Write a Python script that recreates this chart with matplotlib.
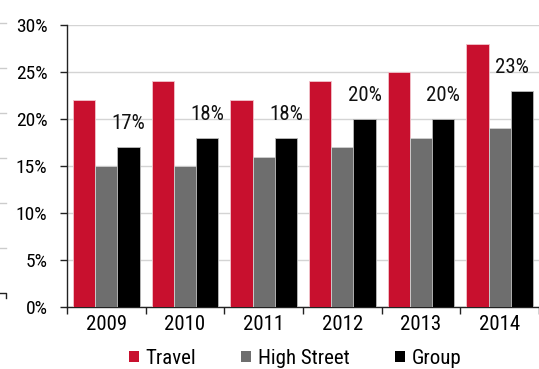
import matplotlib
matplotlib.use("Agg")
import matplotlib.pyplot as plt
from matplotlib.lines import Line2D
from matplotlib.patches import Patch
from matplotlib import font_manager
import numpy as np

years = ["2009", "2010", "2011", "2012", "2013", "2014"]
travel = [22, 24, 22, 24, 25, 28]
high_street = [15, 15, 16, 17, 18, 19]
group = [17, 18, 18, 20, 20, 23]
y_ticks = [0, 5, 10, 15, 20, 25, 30]

RED = "#C8102E"
GREY = "#6E6E6E"
BLACK = "#000000"

installed = {f.name for f in font_manager.fontManager.ttflist}
families = [f for f in ["Roboto Condensed", "Liberation Sans", "DejaVu Sans"] if f in installed]
condensed = "Roboto Condensed" in installed
plt.rcParams["font.family"] = families
FS = 15 if condensed else 13
FS_Y = 14 if condensed else 12

fig = plt.figure(figsize=(5.39, 3.69), dpi=100)
W, H = 539, 369
ax = fig.add_axes([67 / W, 62 / H, 472 / W, 282 / H])

x = np.arange(len(years))
w = 0.282
ax.bar(x - w, travel, w, color=RED, edgecolor="#f2c4cc", linewidth=0.6, zorder=3)
ax.bar(x, high_street, w, color=GREY, edgecolor="#d0d0d0", linewidth=0.6, zorder=3)
ax.bar(x + w, group, w, color=BLACK, edgecolor="#bbbbbb", linewidth=0.6, zorder=3)

labels = []
for xi, v in zip(x, group):
    labels.append(ax.text(xi + w, v + 1.5, f"{v}%", ha="center", va="bottom",
                          fontsize=FS, color="#111111", zorder=4))

ax.set_xlim(-0.5, len(years) - 0.5)
ax.set_ylim(0, 30)
ax.set_yticks(y_ticks)
ax.set_yticklabels([f"{t}%" for t in y_ticks], fontsize=FS_Y)
ax.yaxis.grid(True, color="#d4d4d4", linewidth=1.0, zorder=0)
ax.set_axisbelow(True)

# category boundary ticks on x, labels centred in each category
ax.set_xticks(np.arange(-0.5, len(years)), minor=False)
ax.set_xticklabels([])
ax.set_xticks(x, minor=True)
ax.set_xticklabels(years, minor=True, fontsize=FS)
ax.tick_params(axis="x", which="major", length=5, width=1, color="#222222", direction="out")
ax.tick_params(axis="x", which="minor", length=0, pad=6)
ax.tick_params(axis="y", length=5, width=1, color="#222222", pad=9)

for s in ["top", "right"]:
    ax.spines[s].set_visible(False)
for s in ["left", "bottom"]:
    ax.spines[s].set_color("#222222")
    ax.spines[s].set_linewidth(1.0)

handles = [
    Patch(facecolor=RED, edgecolor="none", label="Travel"),
    Patch(facecolor=GREY, edgecolor="none", label="High Street"),
    Patch(facecolor=BLACK, edgecolor="none", label="Group"),
]
fig.legend(handles=handles, loc="center", bbox_to_anchor=(295 / W, 1 - 358.5 / H),
           ncol=3, frameon=False, fontsize=FS, handlelength=0.48, handleheight=0.48,
           handletextpad=0.3, columnspacing=2.2, borderpad=0, borderaxespad=0)

# keep data labels clear of the right edge of the figure
fig.canvas.draw()
renderer = fig.canvas.get_renderer()
for t in labels:
    bb = t.get_window_extent(renderer)
    overflow = bb.x1 - (W - 10)
    if overflow > 0:
        t.set_transform(t.get_transform() + matplotlib.transforms.Affine2D().translate(-overflow, 0))

# small marks along the left edge
for yy in [23, 68, 113, 158, 203, 248]:
    fig.add_artist(Line2D([0, 6 / W], [1 - yy / H, 1 - yy / H], color="#cccccc", lw=1))
fig.add_artist(Line2D([0, 6 / W, 6 / W], [1 - 293 / H, 1 - 293 / H, 1 - 298 / H],
                      color="#222222", lw=1))

fig.savefig("out.png", dpi=100)
